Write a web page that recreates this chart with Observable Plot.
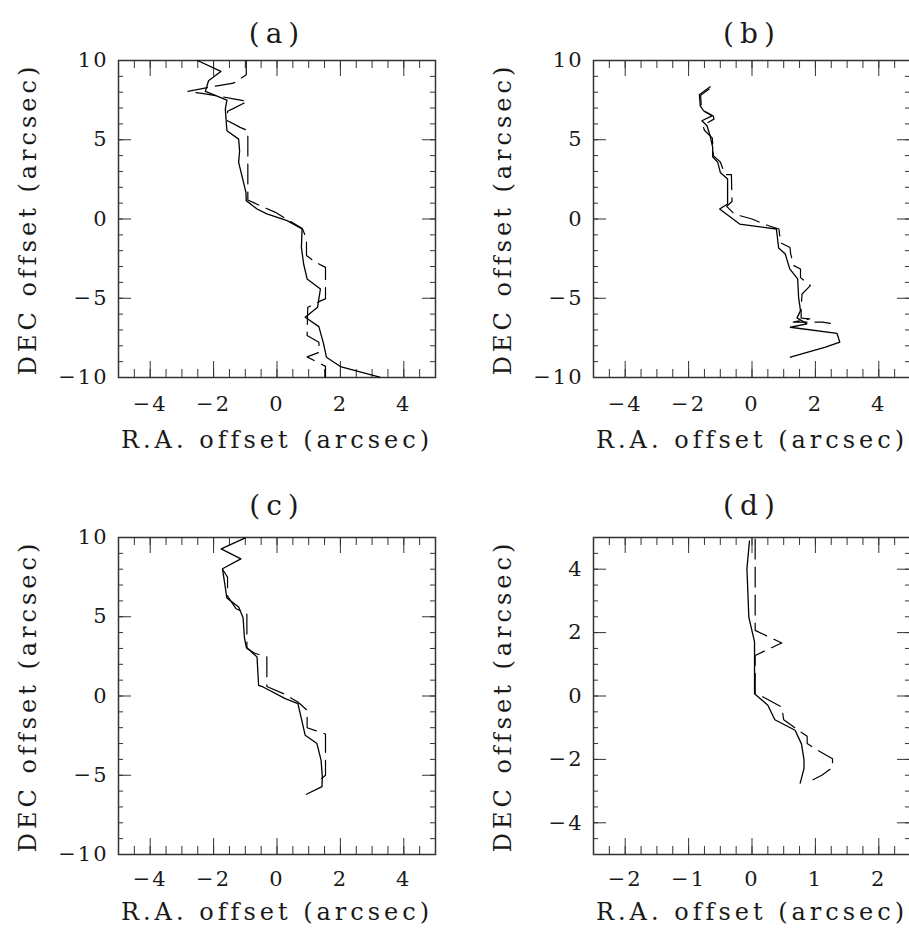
<!DOCTYPE html>
<html>
<head>
<meta charset="utf-8">
<script src="https://cdn.jsdelivr.net/npm/d3@7"></script>
<script src="https://cdn.jsdelivr.net/npm/@observablehq/plot@0.6"></script>
<style>
  html, body { margin: 0; padding: 0; background: #fff; overflow: hidden; }
  #wrap { position: relative; width: 909px; height: 935px; overflow: hidden; background: #fff; }
  #wrap > div { position: absolute; width: 460px; height: 470px; }
  #wrap svg { max-width: none !important; }
</style>
</head>
<body>
<div id="wrap"></div>
<script>
// ---------- data: [R.A. offset, DEC offset] in arcsec ----------
const panelTitles = ["(a)", "(b)", "(c)", "(d)"];
const xLabel = "R.A. offset (arcsec)";
const yLabel = "DEC offset (arcsec)";

const aSolid = [
  [-2.51, 10.0], [-1.77, 9.31], [-2.16, 8.72], [-2.26, 8.05], [-1.58, 7.5], [-1.63, 6.93],
  [-1.58, 5.57], [-1.21, 5.04], [-1.18, 4.31], [-1.21, 3.57], [-1.07, 2.42], [-0.98, 1.68],
  [-0.97, 1.16], [-0.63, 0.63], [-0.32, 0.32], [0.32, -0.1], [0.79, -0.63], [0.77, -1.79],
  [0.84, -2.84], [0.95, -3.78], [1.37, -4.41], [1.32, -5.04], [1.28, -5.57], [0.89, -6.2],
  [1.32, -6.79], [1.47, -7.88], [1.56, -8.72], [2.0, -9.31], [2.53, -9.6], [3.24, -9.98]
];
const aDashed = [
  [-0.97, 10.0], [-0.97, 9.1], [-1.37, 8.57], [-1.89, 8.4], [-2.81, 8.05], [-2.37, 7.92],
  [-1.89, 7.77], [-1.42, 7.6], [-0.93, 7.42], [-1.4, 6.95], [-1.56, 6.8], [-1.56, 6.2],
  [-1.16, 5.78], [-0.92, 5.57], [-0.92, 1.2], [-0.53, 0.84], [-0.05, 0.42], [0.3, 0.0],
  [0.8, -0.6], [0.93, -1.26], [0.93, -2.3], [1.21, -2.73], [1.53, -3.05], [1.53, -5.04],
  [1.39, -5.15], [0.97, -5.57], [0.95, -7.35], [1.32, -7.77], [1.34, -8.4], [0.95, -8.7],
  [1.53, -9.3], [1.53, -10.0]
];

const bSolid = [
  [-1.32, 8.34], [-1.66, 7.84], [-1.63, 7.14], [-1.53, 6.83], [-1.26, 6.51], [-1.58, 6.2],
  [-1.42, 5.88], [-1.32, 5.25], [-1.24, 4.52], [-1.24, 3.93], [-1.08, 3.57], [-1.0, 2.94],
  [-0.77, 2.52], [-0.77, 0.95], [-1.02, 0.63], [-0.39, -0.32], [0.77, -0.63], [0.84, -1.83],
  [1.05, -2.21], [1.19, -3.15], [1.44, -3.78], [1.47, -4.94], [1.53, -5.78], [1.42, -6.24],
  [1.73, -6.62], [1.21, -6.83], [2.68, -7.21], [2.77, -7.77], [2.32, -8.09], [1.21, -8.72]
];
const bDashed = [
  [-1.35, 8.2], [-1.62, 7.8], [-1.6, 7.1], [-1.55, 6.85], [-1.22, 6.5], [-1.2, 6.3],
  [-1.55, 5.9], [-1.5, 5.6], [-1.25, 5.1], [-1.22, 4.0], [-1.0, 3.6], [-0.85, 2.8],
  [-0.65, 2.8], [-0.63, 1.1], [-0.8, 0.8], [-0.55, 0.3], [0.0, 0.0], [0.37, -0.32],
  [0.85, -0.63], [0.9, -1.5], [1.2, -1.8], [1.22, -2.2], [1.32, -2.94], [1.53, -3.15],
  [1.53, -3.7], [1.84, -4.2], [1.58, -4.73], [1.55, -5.57], [1.55, -6.25], [1.82, -6.3],
  [1.3, -6.5], [2.22, -6.51], [2.47, -6.58]
];

const cSolid = [
  [-1.0, 9.98], [-1.76, 9.28], [-1.14, 8.65], [-1.72, 8.03], [-1.68, 7.5], [-1.58, 6.18],
  [-1.21, 5.61], [-1.07, 4.94], [-1.03, 3.72], [-0.97, 3.09], [-0.63, 2.46], [-0.58, 0.67],
  [-0.44, 0.57], [0.26, -0.17], [0.66, -0.48], [0.89, -2.48], [1.26, -3.0], [1.39, -4.05],
  [1.43, -5.1], [1.42, -5.72], [0.93, -6.2]
];
const cDashed = [
  [-1.72, 8.0], [-1.56, 7.5], [-1.56, 6.3], [-1.29, 5.5], [-0.95, 5.2], [-0.95, 3.0],
  [-0.7, 2.7], [-0.32, 2.46], [-0.32, 0.6], [0.2, 0.15], [0.66, -0.38], [0.95, -0.9],
  [0.95, -2.0], [1.35, -2.28], [1.53, -2.4], [1.53, -5.0], [1.35, -5.3]
];

const dSolid = [
  [-0.04, 4.89], [-0.08, 4.02], [-0.05, 2.49], [0.04, 1.71], [0.04, 0.07], [0.25, -0.29],
  [0.36, -0.75], [0.68, -1.08], [0.78, -1.51], [0.82, -2.01], [0.82, -2.29], [0.76, -2.75]
];
const dDashed = [
  [0.05, 4.95], [0.05, 2.07], [0.47, 1.67], [0.39, 1.6], [0.05, 1.28], [0.05, 0.1],
  [0.47, -0.35], [0.5, -0.75], [0.78, -1.15], [0.87, -1.27], [0.87, -1.5], [0.99, -1.66],
  [1.27, -1.98], [1.27, -2.26], [1.1, -2.5], [0.87, -2.74]
];

// tick values
const xMajorWide = [-4, -2, 0, 2, 4];
const xMinorWide = d3.range(-5, 5.001, 0.5);
const yMajorWide = [-10, -5, 0, 5, 10];
const yMinorWide = d3.range(-10, 10.001, 1);
const xMajorNarrow = [-2, -1, 0, 1, 2];
const xMinorNarrow = d3.range(-2.5, 2.501, 0.25);
const yMajorNarrow = [-4, -2, 0, 2, 4];
const yMinorNarrow = d3.range(-5, 5.001, 0.5);

// ---------- layout ----------
const FRAME = 317, W = 460, H = 470, ML = 118, MT = 60;
const fmt = d => d < 0 ? "\u2212" + Math.abs(d) : String(d);

const topRow = {tickDy: 27, labelDy: 63, titleDy: -26};
const botRow = {tickDy: 25, labelDy: 58, titleDy: -31};

const panels = [
  {title: panelTitles[0], solid: aSolid, dashed: aDashed, xd: [-5, 5], yd: [-10, 10],
   xM: xMajorWide, xm: xMinorWide, yM: yMajorWide, ym: yMinorWide, left: 0, top: 0, row: topRow},
  {title: panelTitles[1], solid: bSolid, dashed: bDashed, xd: [-5, 5], yd: [-10, 10],
   xM: xMajorWide, xm: xMinorWide, yM: yMajorWide, ym: yMinorWide, left: 475, top: 0, row: topRow},
  {title: panelTitles[2], solid: cSolid, dashed: cDashed, xd: [-5, 5], yd: [-10, 10],
   xM: xMajorWide, xm: xMinorWide, yM: yMajorWide, ym: yMinorWide, left: 0, top: 477, row: botRow},
  {title: panelTitles[3], solid: dSolid, dashed: dDashed, xd: [-2.5, 2.5], yd: [-5, 5],
   xM: xMajorNarrow, xm: xMinorNarrow, yM: yMajorNarrow, ym: yMinorNarrow, left: 475, top: 477, row: botRow}
];

const FONT = "DejaVu Serif";
const tickCol = "#333";
const textCol = "#1a1a1a";

for (const p of panels) {
  const chart = Plot.plot({
    width: W, height: H,
    marginLeft: ML, marginRight: W - ML - FRAME,
    marginTop: MT, marginBottom: H - MT - FRAME,
    x: {domain: p.xd, axis: null},
    y: {domain: p.yd, axis: null},
    style: {fontFamily: FONT, background: "white", color: "black", overflow: "visible"},
    marks: [
      // minor ticks (inward, all four sides)
      Plot.tickX(p.xm, {x: d => d, insetTop: FRAME - 8, stroke: tickCol, strokeWidth: 1}),
      Plot.tickX(p.xm, {x: d => d, insetBottom: FRAME - 8, stroke: tickCol, strokeWidth: 1}),
      Plot.tickY(p.ym, {y: d => d, insetRight: FRAME - 5, stroke: tickCol, strokeWidth: 1}),
      Plot.tickY(p.ym, {y: d => d, insetLeft: FRAME - 5, stroke: tickCol, strokeWidth: 1}),
      // major ticks
      Plot.tickX(p.xM, {x: d => d, insetTop: FRAME - 16, stroke: tickCol, strokeWidth: 1}),
      Plot.tickX(p.xM, {x: d => d, insetBottom: FRAME - 16, stroke: tickCol, strokeWidth: 1}),
      Plot.tickY(p.yM, {y: d => d, insetRight: FRAME - 13, stroke: tickCol, strokeWidth: 1}),
      Plot.tickY(p.yM, {y: d => d, insetLeft: FRAME - 13, stroke: tickCol, strokeWidth: 1}),
      Plot.frame({stroke: "#333", strokeWidth: 1.5}),
      // data
      Plot.line(p.dashed, {x: d => d[0], y: d => d[1], stroke: "black", strokeWidth: 1.2,
        strokeDasharray: "20,8", curve: "linear"}),
      Plot.line(p.solid, {x: d => d[0], y: d => d[1], stroke: "black", strokeWidth: 1.3, curve: "linear"}),
      // tick labels
      Plot.text(p.xM, {x: d => d, text: d => fmt(d), frameAnchor: "bottom", dy: p.row.tickDy,
        lineAnchor: "middle", textAnchor: "middle", fontSize: 21, fill: textCol}),
      Plot.text(p.yM, {y: d => d, text: d => fmt(d), frameAnchor: "left", dx: -10,
        lineAnchor: "middle", textAnchor: "end", fontSize: 21, fill: textCol}),
      // axis labels
      Plot.text([xLabel], {text: d => d, frameAnchor: "bottom", dy: p.row.labelDy, lineAnchor: "middle",
        textAnchor: "middle", fontSize: 24, fill: textCol}),
      Plot.text([yLabel], {text: d => d, frameAnchor: "left", dx: -90, rotate: -90,
        lineAnchor: "middle", textAnchor: "middle", fontSize: 24, fill: textCol}),
      // title
      Plot.text([p.title], {text: d => d, frameAnchor: "top", dy: p.row.titleDy, lineAnchor: "middle",
        textAnchor: "middle", fontSize: 28, fill: textCol})
    ]
  });
  chart.style.maxWidth = "none";
  chart.querySelectorAll("text").forEach(t => {
    const s = t.textContent;
    if (panelTitles.includes(s)) t.style.letterSpacing = "6px";
    else if (s === xLabel || s === yLabel) t.style.letterSpacing = "4px";
    else t.style.letterSpacing = "2px";
  });
  const holder = document.createElement("div");
  holder.style.left = p.left + "px";
  holder.style.top = p.top + "px";
  holder.appendChild(chart);
  document.getElementById("wrap").appendChild(holder);
}
</script>
</body>
</html>
